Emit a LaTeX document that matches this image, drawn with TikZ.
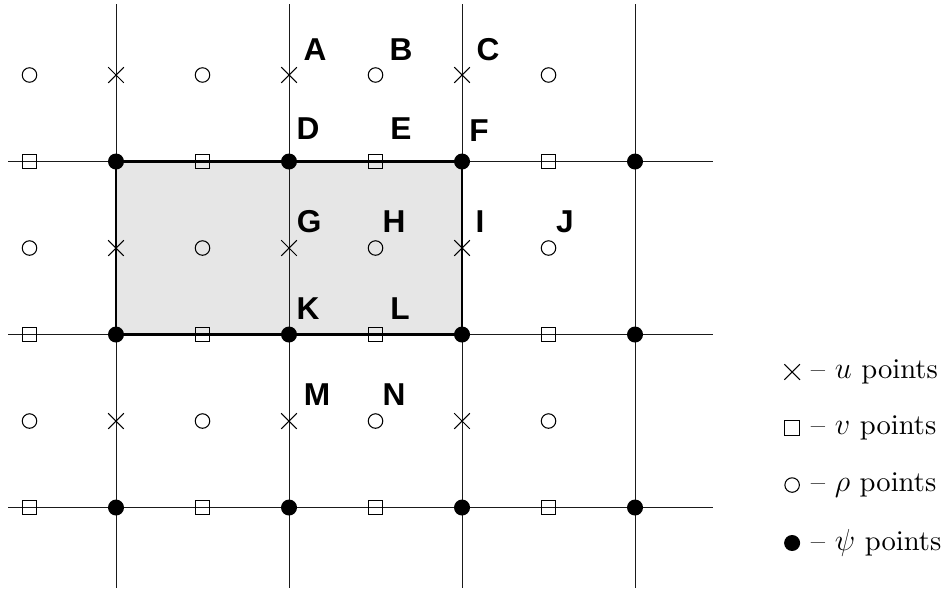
\documentclass[tikz,border=0pt]{standalone}
\usepackage{fontspec}
\newfontfamily\lblfont{Liberation Sans}
\newfontfamily\keyfont[Ligatures=TeX]{lmroman10-regular.otf}
\usetikzlibrary{positioning,shapes.misc}
\definecolor{ink}{HTML}{000000}
\definecolor{gline}{HTML}{1A1A1A}
\definecolor{cellfill}{HTML}{E6E6E6}

\begin{document}
\begin{tikzpicture}[x=3.46cm, y=-3.46cm,
    gridline/.style={line width=0.55pt, draw=gline},
    cellborder/.style={line width=1.2pt, draw=ink},
    upt/.style={cross out, draw=ink, line width=0.6pt, minimum size=2.9mm, inner sep=0pt},
    vpt/.style={rectangle, draw=ink, line width=0.6pt, minimum size=2.9mm, inner sep=0pt},
    rpt/.style={circle, draw=ink, line width=0.6pt, minimum size=2.9mm, inner sep=0pt},
    ppt/.style={circle, fill=ink, minimum size=3.2mm, inner sep=0pt},
    lbl/.style={font=\lblfont\bfseries\fontsize{18}{20}\selectfont, inner sep=0pt},
    keytxt/.style={font=\keyfont\fontsize{16.3}{19}\selectfont, inner sep=0pt, anchor=west},
  ]
  \useasboundingbox (-0.6705,-0.9335) rectangle (4.809,2.4827);

  % ---- the shaded cell
  \fill[cellfill] (0,0) rectangle (2,1);

  % ---- grid lines
  \draw[gridline] (0,-0.91) -- (0,2.465);
  \draw[gridline] (1,-0.91) -- (1,2.465);
  \draw[gridline] (2,-0.91) -- (2,2.465);
  \draw[gridline] (3,-0.91) -- (3,2.465);
  \draw[gridline] (-0.624,0) -- (3.45,0);
  \draw[gridline] (-0.624,1) -- (3.45,1);
  \draw[gridline] (-0.624,2) -- (3.45,2);
  \draw[cellborder] (0,0) rectangle (2,1);

  % ---- rho points
  \node[rpt] (r11) at (-0.5,-0.5) {}; \node[rpt] (r12) at (0.5,-0.5) {};
  \node[rpt] (r13) at (1.5,-0.5) {};  \node[rpt] (r14) at (2.5,-0.5) {};
  \node[rpt] (r21) at (-0.5,0.5) {};  \node[rpt] (r22) at (0.5,0.5) {};
  \node[rpt] (r23) at (1.5,0.5) {};   \node[rpt] (r24) at (2.5,0.5) {};
  \node[rpt] (r31) at (-0.5,1.5) {};  \node[rpt] (r32) at (0.5,1.5) {};
  \node[rpt] (r33) at (1.5,1.5) {};   \node[rpt] (r34) at (2.5,1.5) {};

  % ---- u points
  \node[upt] (u11) at (0,-0.5) {}; \node[upt] (u12) at (1,-0.5) {}; \node[upt] (u13) at (2,-0.5) {};
  \node[upt] (u21) at (0,0.5) {};  \node[upt] (u22) at (1,0.5) {};  \node[upt] (u23) at (2,0.5) {};
  \node[upt] (u31) at (0,1.5) {};  \node[upt] (u32) at (1,1.5) {};  \node[upt] (u33) at (2,1.5) {};

  % ---- v points
  \node[vpt] (v11) at (-0.5,0) {}; \node[vpt] (v12) at (0.5,0) {};
  \node[vpt] (v13) at (1.5,0) {};  \node[vpt] (v14) at (2.5,0) {};
  \node[vpt] (v21) at (-0.5,1) {}; \node[vpt] (v22) at (0.5,1) {};
  \node[vpt] (v23) at (1.5,1) {};  \node[vpt] (v24) at (2.5,1) {};
  \node[vpt] (v31) at (-0.5,2) {}; \node[vpt] (v32) at (0.5,2) {};
  \node[vpt] (v33) at (1.5,2) {};  \node[vpt] (v34) at (2.5,2) {};

  % ---- psi points
  \node[ppt] (p11) at (0,0) {}; \node[ppt] (p12) at (1,0) {};
  \node[ppt] (p13) at (2,0) {}; \node[ppt] (p14) at (3,0) {};
  \node[ppt] (p21) at (0,1) {}; \node[ppt] (p22) at (1,1) {};
  \node[ppt] (p23) at (2,1) {}; \node[ppt] (p24) at (3,1) {};
  \node[ppt] (p31) at (0,2) {}; \node[ppt] (p32) at (1,2) {};
  \node[ppt] (p33) at (2,2) {}; \node[ppt] (p34) at (3,2) {};

  % ---- letters
  \node[lbl] (lA) at (1.150,-0.645) {A};
  \node[lbl] (lB) at (1.647,-0.645) {B};
  \node[lbl] (lC) at (2.150,-0.645) {C};
  \node[lbl] (lD) at (1.110,-0.188) {D};
  \node[lbl] (lE) at (1.647,-0.188) {E};
  \node[lbl] (lF) at (2.098,-0.176) {F};
  \node[lbl] (lG) at (1.116,0.350) {G};
  \node[lbl] (lH) at (1.607,0.350) {H};
  \node[lbl] (lI) at (2.104,0.350) {I};
  \node[lbl] (lJ) at (2.595,0.350) {J};
  \node[lbl] (lK) at (1.110,0.853) {K};
  \node[lbl] (lL) at (1.642,0.853) {L};
  \node[lbl] (lM) at (1.162,1.350) {M};
  \node[lbl] (lN) at (1.607,1.350) {N};

  % ---- key
  \node[upt] (ku) at (3.908,1.217) {};
  \node[vpt] (kv) at (3.908,1.540) {};
  \node[rpt] (kr) at (3.908,1.870) {};
  \node[ppt] (kp) at (3.908,2.205) {};
  \node[keytxt, right=3.7mm of ku.center] (kut) {-- $u$ points};
  \node[keytxt, right=3.7mm of kv.center] (kvt) {-- $v$ points};
  \node[keytxt, right=3.7mm of kr.center] (krt) {-- $\rho$ points};
  \node[keytxt, right=3.7mm of kp.center] (kpt) {-- $\psi$ points};
\end{tikzpicture}
\end{document}
